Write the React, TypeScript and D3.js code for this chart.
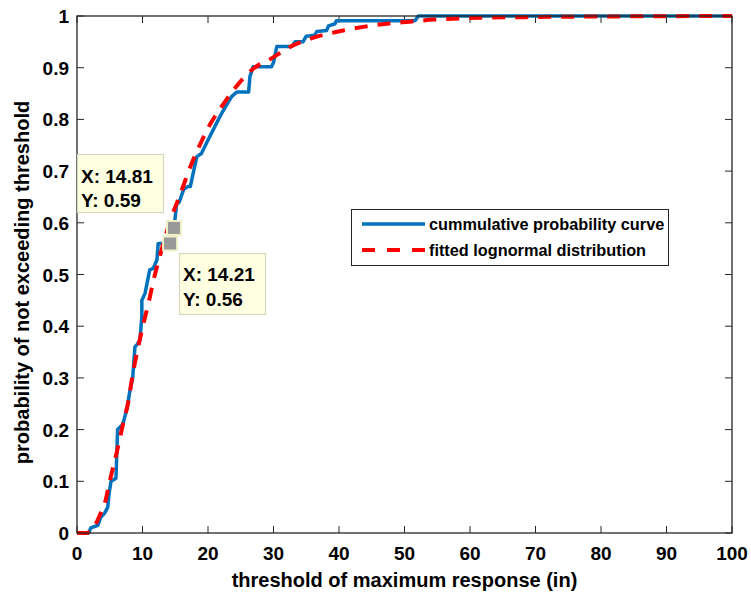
import React from "react";
import * as d3 from "d3";

const W = 751;
const H = 602;

const xTicks = [0, 10, 20, 30, 40, 50, 60, 70, 80, 90, 100];
const yTicks = [0, 0.1, 0.2, 0.3, 0.4, 0.5, 0.6, 0.7, 0.8, 0.9, 1];

// empirical cumulative probability curve (x in inches, y probability)
const empX = [0, 1.8, 2.1, 3.2, 3.6, 4.2, 4.7, 4.9, 5.2, 5.95, 6.2, 7.0, 7.7, 8.0, 8.5, 8.85, 9.2, 9.6, 9.9, 9.9, 10.4, 11.1, 11.65, 12.2, 12.4, 14.21, 14.81, 15.2, 15.6, 16.3, 16.9, 17.3, 17.75, 18.3, 19.0, 20.0, 20.8, 21.6, 22.1, 22.85, 23.6, 24.4, 26.2, 26.4, 26.9, 29.7, 30.0, 30.5, 32.8, 33.3, 34.5, 35.0, 36.3, 36.6, 38.1, 38.4, 39.4, 39.6, 51.6, 52.1, 100];
const empY = [0, 0, 0.01, 0.015, 0.03, 0.038, 0.05, 0.077, 0.1, 0.106, 0.2, 0.21, 0.245, 0.27, 0.3, 0.36, 0.365, 0.373, 0.418, 0.45, 0.464, 0.509, 0.512, 0.528, 0.56, 0.56, 0.59, 0.635, 0.64, 0.665, 0.67, 0.67, 0.697, 0.728, 0.734, 0.76, 0.78, 0.8, 0.812, 0.828, 0.844, 0.853, 0.853, 0.883, 0.902, 0.902, 0.91, 0.941, 0.941, 0.95, 0.95, 0.961, 0.963, 0.97, 0.972, 0.981, 0.985, 0.991, 0.991, 1, 1];

// fitted lognormal distribution
const fitX = [0, 1.5, 2.0, 2.75, 3.5, 4.3, 5.0, 6.05, 7.1, 7.85, 8.35, 9.6, 10.9, 11.9, 12.7, 14.2, 16.0, 16.75, 18.8, 20.3, 22.1, 23.9, 26.9, 29.7, 32.5, 36.1, 39.9, 43.7, 47.3, 50.8, 54.4, 60, 70, 80, 100];
const fitY = [0, 0, 0.004, 0.015, 0.035, 0.06, 0.1, 0.155, 0.215, 0.255, 0.295, 0.375, 0.444, 0.5, 0.538, 0.603, 0.663, 0.69, 0.752, 0.79, 0.825, 0.857, 0.898, 0.918, 0.94, 0.958, 0.97, 0.979, 0.985, 0.989, 0.993, 0.996, 0.998, 0.999, 1];

const tipX = [14.81, 14.21];
const tipY = [0.59, 0.56];

const legendLabels = ["cummulative probability curve", "fitted lognormal distribution"];
const xLabel = "threshold of maximum response (in)";
const yLabel = "probability of not exceeding threshold";

const FONT = "'Liberation Sans', Arial, Helvetica, sans-serif";
const AX = "#262626";

export default function App() {
  const left = 77, right = 732, top = 16, bottom = 533;
  const x = d3.scaleLinear().domain([0, 100]).range([left, right]);
  const y = d3.scaleLinear().domain([0, 1]).range([bottom, top]);

  const empPts: [number, number][] = empX.map((v, i) => [v, empY[i]]);
  const fitPts: [number, number][] = fitX.map((v, i) => [v, fitY[i]]);
  const lineLin = d3.line<[number, number]>().x((d) => x(d[0])).y((d) => y(d[1]));
  const lineSmooth = d3
    .line<[number, number]>()
    .x((d) => x(d[0]))
    .y((d) => y(d[1]))
    .curve(d3.curveMonotoneX);

  const tl = 7;
  const tickFs = 19;
  const tipFs = 19;

  return (
    <div style={{ position: "fixed", left: 0, top: 0, width: W, height: H, background: "#fff" }}>
      <svg width={W} height={H} style={{ display: "block" }} fontFamily={FONT}>
        <rect x={0} y={0} width={W} height={H} fill="#fff" />
        <rect x={left} y={top} width={right - left} height={bottom - top} fill="#fff" />

        {/* ticks */}
        {xTicks.map((t) => (
          <g key={"xt" + t}>
            <line x1={x(t)} x2={x(t)} y1={bottom} y2={bottom - tl} stroke={AX} strokeWidth={1} />
            <line x1={x(t)} x2={x(t)} y1={top} y2={top + tl} stroke={AX} strokeWidth={1} />
            <text x={x(t)} y={bottom + 27} textAnchor="middle" fontSize={tickFs} fontWeight="bold" fill="#000">
              {t}
            </text>
          </g>
        ))}
        {yTicks.map((t) => (
          <g key={"yt" + t}>
            <line x1={left} x2={left + tl} y1={y(t)} y2={y(t)} stroke={AX} strokeWidth={1} />
            <line x1={right} x2={right - tl} y1={y(t)} y2={y(t)} stroke={AX} strokeWidth={1} />
            <text x={left - 8} y={y(t) + 7} textAnchor="end" fontSize={tickFs} fontWeight="bold" fill="#000">
              {String(t)}
            </text>
          </g>
        ))}

        <path d={lineLin(empPts) || ""} fill="none" stroke="#0072BD" strokeWidth={3.5} strokeLinejoin="round" />
        <path
          d={lineSmooth(fitPts) || ""}
          fill="none"
          stroke="#FF0000"
          strokeWidth={4}
          strokeDasharray="13,10"
        />

        <rect x={left} y={top} width={right - left} height={bottom - top} fill="none" stroke={AX} strokeWidth={1.3} />

        {/* data tips markers */}
        {tipX.map((v, i) => (
          <rect
            key={"m" + i}
            x={x(v) - 7}
            y={y(tipY[i]) - 7}
            width={14}
            height={14}
            fill="#999999"
            stroke="#F0F0C8"
            strokeWidth={2}
          />
        ))}

        {/* data tip boxes */}
        <g>
          <rect x={77.5} y={154.5} width={86} height={58} fill="#FFFFE1" stroke="#D6D6C0" strokeWidth={1.2} />
          <text x={81} y={183} fontSize={tipFs} fontWeight="bold" fill="#000">{`X: ${tipX[0]}`}</text>
          <text x={81} y={207} fontSize={tipFs} fontWeight="bold" fill="#000">{`Y: ${tipY[0]}`}</text>
        </g>
        <g>
          <rect x={179.5} y={253.5} width={86} height={61} fill="#FFFFE1" stroke="#D6D6C0" strokeWidth={1.2} />
          <text x={183} y={281} fontSize={tipFs} fontWeight="bold" fill="#000">{`X: ${tipX[1]}`}</text>
          <text x={183} y={306} fontSize={tipFs} fontWeight="bold" fill="#000">{`Y: ${tipY[1]}`}</text>
        </g>

        {/* legend */}
        <g>
          <rect x={351.5} y={209.5} width={317} height={56} fill="#fff" stroke={AX} strokeWidth={1} />
          <line x1={362} x2={425} y1={224} y2={224} stroke="#0072BD" strokeWidth={3.5} />
          <line x1={362} x2={425} y1={250} y2={250} stroke="#FF0000" strokeWidth={4} strokeDasharray="13,12" />
          <text x={429} y={230} fontSize={16.3} fontWeight="bold" fill="#000">{legendLabels[0]}</text>
          <text x={429} y={256} fontSize={16.3} fontWeight="bold" fill="#000">{legendLabels[1]}</text>
        </g>

        <text x={(left + right) / 2} y={587} textAnchor="middle" fontSize={20} fontWeight="bold" fill="#000">
          {xLabel}
        </text>
        <text
          transform={`translate(29,${(top + bottom) / 2 + 8}) rotate(-90)`}
          textAnchor="middle"
          fontSize={20}
          fontWeight="bold"
          fill="#000"
        >
          {yLabel}
        </text>
      </svg>
    </div>
  );
}
